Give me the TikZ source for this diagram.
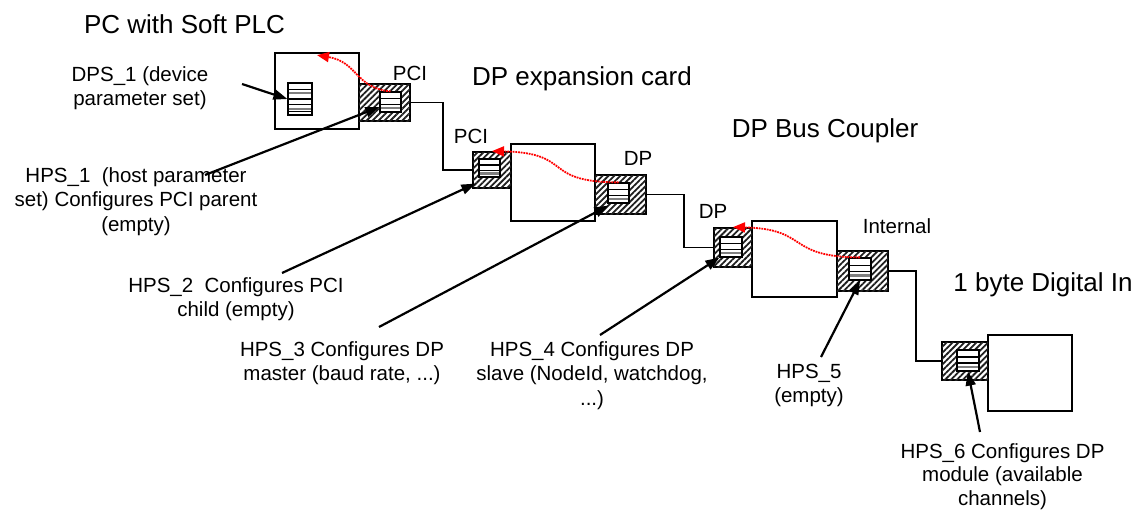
\documentclass[tikz,border=0pt]{standalone}
\usepackage{fontspec}
\setmainfont{Liberation Sans}
\usetikzlibrary{arrows.meta,patterns.meta,calc}
\newcommand\stkline[3]{\draw[line width=#2,draw=#3] ($(path picture bounding box.north west)!#1!(path picture bounding box.south west)$) -- ($(path picture bounding box.north east)!#1!(path picture bounding box.south east)$);}
\tikzset{
  box/.style={draw, line width=1.8pt, fill=white, inner sep=0pt},
  port/.style={draw, line width=1.8pt, inner sep=0pt, fill=white,
    postaction={pattern={Lines[angle=45,distance=4.2pt,line width=1.8pt]}, pattern color=black!88}},
  pstack/.style={draw, line width=1.2pt, fill=white, inner sep=0pt,
    path picture={\stkline{0.33}{1.3pt}{black}\stkline{0.62}{1.3pt}{black}\stkline{0.8}{2.4pt}{gray}}},
  bstack/.style={draw, line width=1.2pt, fill=white, inner sep=0pt,
    path picture={\stkline{0.2}{1.2pt}{black}\stkline{0.32}{1.8pt}{gray}\stkline{0.5}{1.2pt}{black}\stkline{0.68}{1.2pt}{black}\stkline{0.8}{1.8pt}{gray}\stkline{0.9}{1.2pt}{black}}},
  lbl/.style={font=\fontsize{20.5}{24.5}\selectfont, align=center, inner sep=0pt, anchor=base},
  ttl/.style={font=\fontsize{26}{30}\selectfont, inner sep=0pt, anchor=base},
  wire/.style={line width=1.5pt},
  redarrow/.style={draw=red, line width=1.8pt, dash pattern=on 1.8pt off 0.9pt, -{Triangle[length=12pt,width=10pt,fill=red]}},
  lead/.style={line width=2.2pt, -{Triangle[length=14pt,width=10pt]}}
}
\begin{document}
\begin{tikzpicture}[x=1pt,y=-1pt]
\path[use as bounding box, fill=white] (0,0) rectangle (1137,511);

% main boxes
\node[box, minimum width=84pt, minimum height=76pt] (b1) at (317,91) {};
\node[box, minimum width=84pt, minimum height=77pt] (b2) at (553,182.5) {};
\node[box, minimum width=85pt, minimum height=76pt] (b3) at (794.5,259) {};
\node[box, minimum width=84pt, minimum height=76pt] (b4) at (1030,373) {};

% ports
\node[port, minimum width=51pt, minimum height=37pt] (p1) at (384.5,102.5) {};
\node[port, minimum width=38pt, minimum height=36pt] (p2L) at (492,170) {};
\node[port, minimum width=51pt, minimum height=39pt] (p2R) at (620.5,194.5) {};
\node[port, minimum width=38pt, minimum height=39pt] (p3L) at (733,247.5) {};
\node[port, minimum width=51pt, minimum height=40pt] (p3R) at (862.5,271) {};
\node[port, minimum width=46pt, minimum height=38pt] (p4) at (965,361) {};

% parameter set stacks
\node[bstack, minimum width=24pt, minimum height=32pt] (bi1) at (300,99) {};
\node[pstack, minimum width=21pt, minimum height=20pt] (pi1) at (390.5,102) {};
\node[pstack, minimum width=21pt, minimum height=18pt] (pi2L) at (489.5,168) {};
\node[pstack, minimum width=21pt, minimum height=20pt] (pi2R) at (618.5,193) {};
\node[pstack, minimum width=22pt, minimum height=20pt] (pi3L) at (731,247) {};
\node[pstack, minimum width=22pt, minimum height=22pt] (pi3R) at (860,269) {};
\node[pstack, minimum width=22pt, minimum height=21pt] (pi4) at (968,360.5) {};

% bus wires
\draw[wire] (p1.east) -- ++(32,0) |- (p2L.west);
\draw[wire] (p2R.east) -- ++(37,0) |- (p3L.west);
\draw[wire] (p3R.east) -- ++(27,0) |- (p4.west);

% red dotted arrows
\draw[redarrow] (pi1.north) .. controls (355,88) and (358,62) .. ([yshift=-3pt]b1.north);
\draw[redarrow] (pi2R.north) .. controls (540,182) and (575,153) .. (p2L.north);
\draw[redarrow] (pi3R.north) .. controls (785,257) and (810,229) .. (p3L.north);

% titles
\node[ttl] (t1) at (184.5,34) {PC with Soft PLC};
\node[ttl] (t2) at (582,85) {DP expansion card};
\node[ttl] (t3) at (825,137) {DP Bus Coupler};
\node[ttl] (t4) at (1043,291) {1 byte Digital In};

% port labels
\node[lbl] (l1) at (410,81) {PCI};
\node[lbl] (l2) at (471,143) {PCI};
\node[lbl] (l3) at (638,165) {DP};
\node[lbl] (l4) at (713,218) {DP};
\node[lbl] (l5) at (897,233) {Internal};

% descriptive labels (base = baseline of last line)
\node[lbl] (d1) at (140,105.5) {DPS\_1 (device\\parameter set)};
\node[lbl] (h1) at (136,231) {HPS\_1\ \ (host parameter\\set) Configures PCI parent\\(empty)};
\node[lbl] (h2) at (236,316.5) {HPS\_2\ \ Configures PCI\\child (empty)};
\node[lbl] (h3) at (342,380.5) {HPS\_3 Configures DP\\master (baud rate, ...)};
\node[lbl] (h4) at (592,405) {HPS\_4 Configures DP\\slave (NodeId, watchdog,\\...)};
\node[lbl] (h5) at (809,402.5) {HPS\_5\\(empty)};
\node[lbl, font=\fontsize{20.5}{23.5}\selectfont] (h6) at (1002.5,505) {HPS\_6 Configures DP\\module (available\\channels)};

% leader arrows
\coordinate (s1) at (242,84);
\coordinate (s2) at (205,175);
\coordinate (s3) at (282,273);
\coordinate (s4) at (379,327);
\coordinate (s5) at (600,335);
\coordinate (s6) at (821,357);
\coordinate (s7) at (980,432);
\draw[lead] (s1) -- (bi1.west);
\draw[lead] (s2) -- ($(pi1.west)+(0,5)$);
\draw[lead] (s3) -- ($(pi2L.south west)+(-3,6)$);
\draw[lead] (s4) -- ($(pi2R.south west)+(1,2)$);
\draw[lead] (s5) -- (pi3L.south west);
\draw[lead] (s6) -- (pi3R.south);
\draw[lead] (s7) -- (pi4.south);
\end{tikzpicture}
\end{document}
